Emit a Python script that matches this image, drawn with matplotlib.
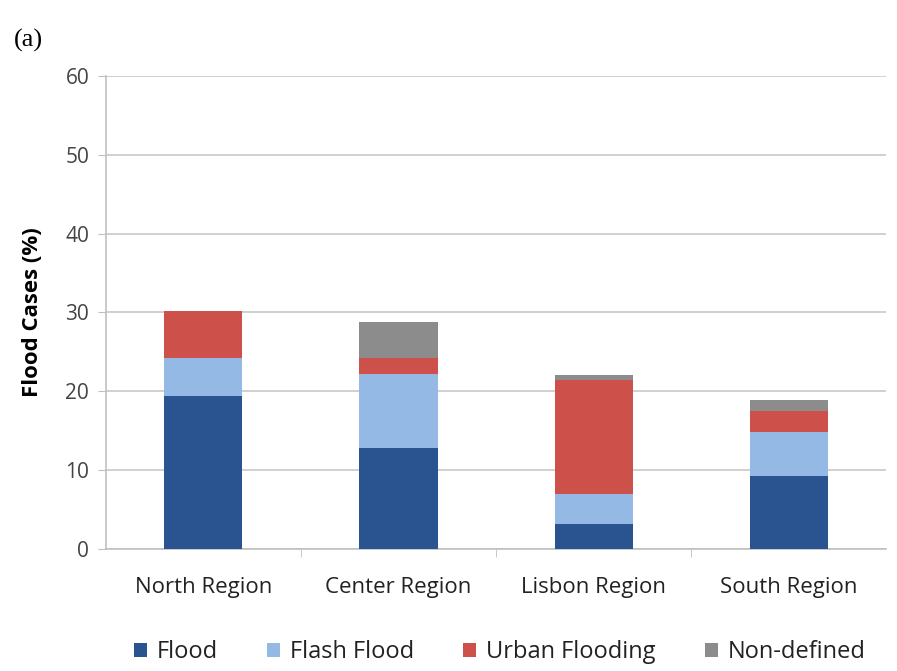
import matplotlib
matplotlib.use("Agg")
import matplotlib.pyplot as plt
import numpy as np

regions = ["North Region", "Center Region", "Lisbon Region", "South Region"]
series = ["Flood", "Flash Flood", "Urban Flooding", "Non-defined"]
flood = [19.4, 12.8, 3.1, 9.2]
flash_flood = [4.8, 9.4, 3.9, 5.6]
urban_flooding = [6.0, 2.0, 14.4, 2.7]
non_defined = [0.0, 4.6, 0.6, 1.4]
colors = ["#2a5490", "#95b9e5", "#cd504b", "#8c8c8c"]

plt.rcParams['font.family'] = ['Open Sans', 'DejaVu Sans']

fig = plt.figure(figsize=(8.97, 6.71), dpi=100)
ax = fig.add_axes([0.118, 0.182, 0.870, 0.705])

x = np.arange(len(regions))
bottom = np.zeros(len(regions))
for name, vals, c in zip(series, [flood, flash_flood, urban_flooding, non_defined], colors):
    ax.bar(x, vals, 0.4, bottom=bottom, color=c, label=name, zorder=3)
    bottom += np.array(vals)

ax.set_ylim(0, 60)
ax.set_xlim(-0.5, 3.5)
ax.set_yticks(range(0, 61, 10))
ax.set_xticks(x)
ax.set_xticklabels(regions, fontsize=16, color="#222222")
ax.tick_params(axis="y", labelsize=15, labelcolor="#444444", length=6, color="#c0c0c0", pad=6)
ax.tick_params(axis="x", length=0, pad=20)
ax.set_xticks([0.5, 1.5, 2.5], minor=True)
ax.tick_params(axis="x", which="minor", length=6, color="#c0c0c0")
ax.yaxis.grid(True, color="#c8c8c8", linewidth=1.2, zorder=0)
for s in ["top", "right"]:
    ax.spines[s].set_visible(False)
for s in ["left", "bottom"]:
    ax.spines[s].set_color("#c0c0c0")
    ax.spines[s].set_linewidth(1.2)

ax.set_ylabel("Flood Cases (%)", fontsize=16, fontweight="bold", labelpad=16)

fig.legend(loc="center", bbox_to_anchor=(0.557, 0.028), ncol=4, frameon=False,
           fontsize=17, handlelength=0.55, handleheight=0.55, columnspacing=2.1,
           handletextpad=0.4, labelcolor="#222222")

fig.text(0.015, 0.93, "(a)", family="Liberation Serif", fontsize=19)

fig.savefig("out.png", dpi=100)
